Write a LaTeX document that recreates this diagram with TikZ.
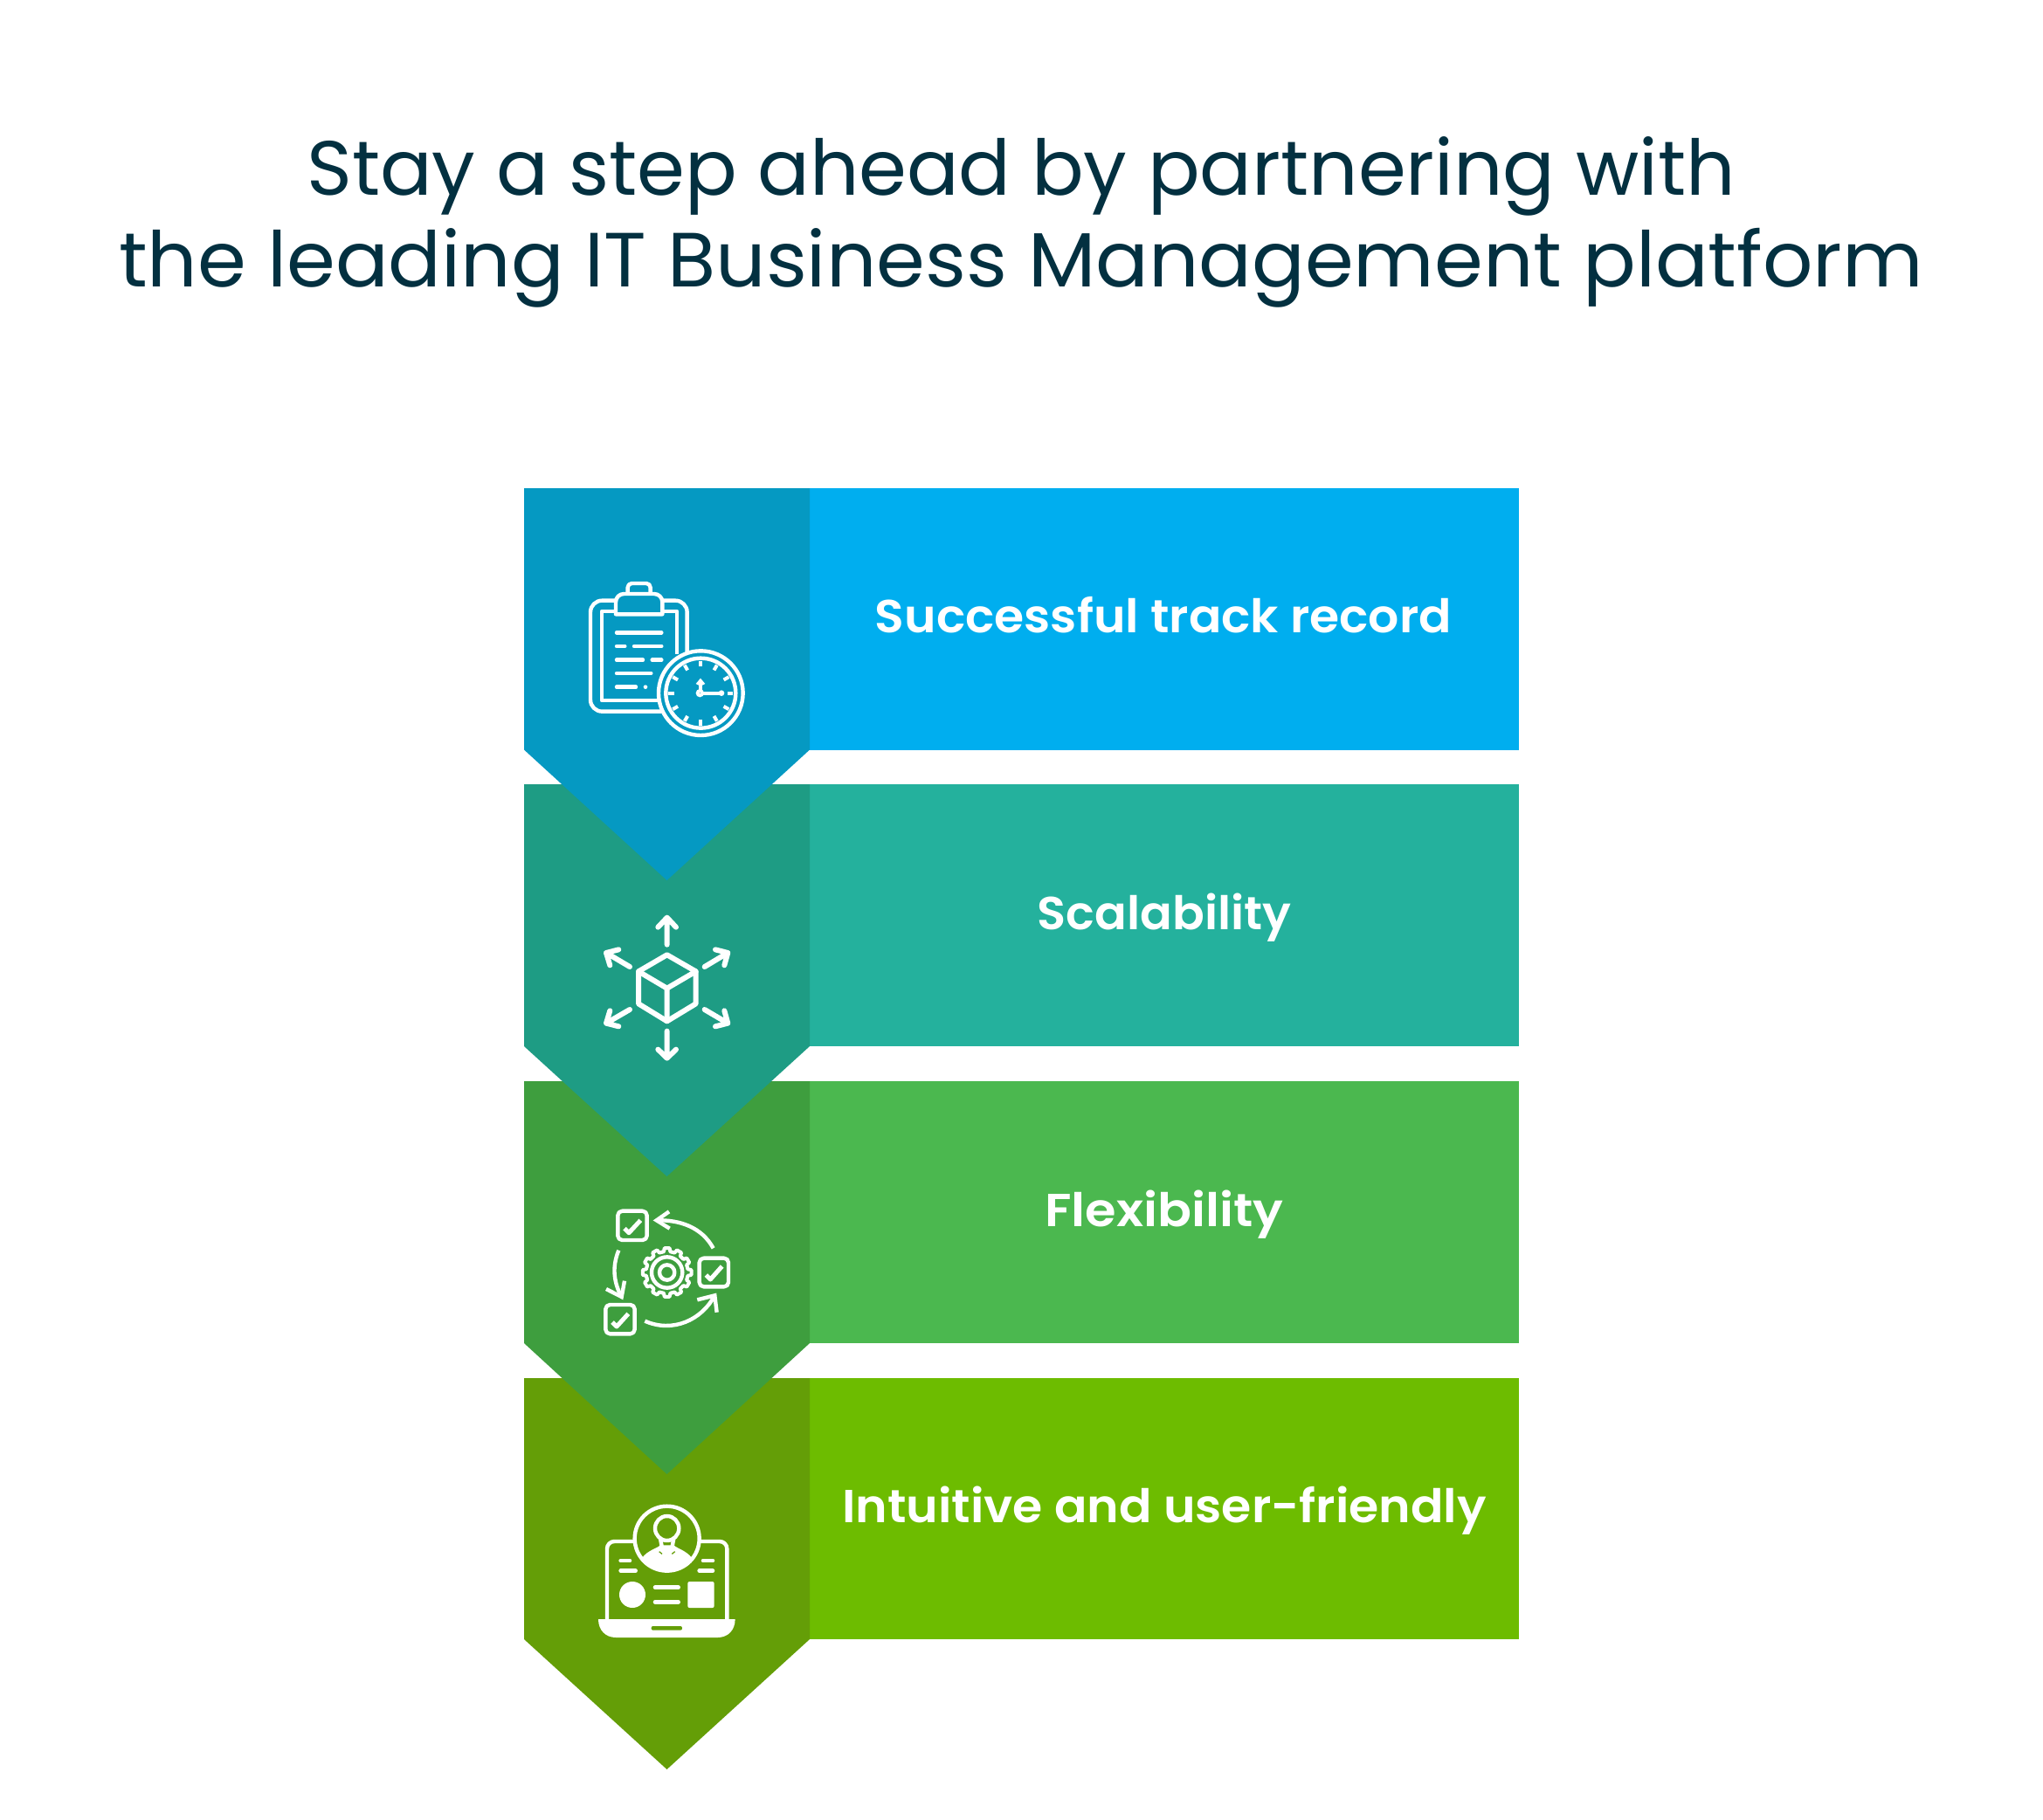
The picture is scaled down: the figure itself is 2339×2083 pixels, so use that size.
\documentclass[tikz,border=0pt]{standalone}
\usepackage{fontspec}
\usetikzlibrary{calc}
\setmainfont{Poppins}
\newfontfamily\labfont{Poppins SemiBold}
\definecolor{inktitle}{HTML}{033040}
\definecolor{pA}{HTML}{00AEEF}\definecolor{dA}{HTML}{0599C2}
\definecolor{pB}{HTML}{24B19D}\definecolor{dB}{HTML}{1E9C84}
\definecolor{pC}{HTML}{4BB84F}\definecolor{dC}{HTML}{3E9E3E}
\definecolor{pD}{HTML}{6DBC00}\definecolor{dD}{HTML}{649E07}
\tikzset{
  titletext/.style={text=inktitle,anchor=base,inner sep=0pt,font=\fontsize{88}{100}\selectfont},
  labeltext/.style={text=white,anchor=base,inner sep=0pt,font=\labfont\fontsize{53}{60}\selectfont},
  icon/.style={draw=white,line width=4.4pt,line cap=round,line join=round},
  iconthin/.style={draw=white,line width=4pt,line cap=round,line join=round},
}
\begin{document}
\begin{tikzpicture}[x=1pt,y=-1pt]
\useasboundingbox (0,0) rectangle (2339,2083);
\fill[white] (0,0) rectangle (2339,2083);
% bands, bottom first so that each point overlaps the band below
\fill[pD] (927,1578) rectangle (1739,1877);
\fill[dD] (600,1578) -- (927,1578) -- (927,1877) -- (763.5,2026) -- (600,1877) -- cycle;
\fill[pC] (927,1238) rectangle (1739,1538);
\fill[dC] (600,1238) -- (927,1238) -- (927,1538) -- (763.5,1688) -- (600,1538) -- cycle;
\fill[pB] (927,898) rectangle (1739,1198);
\fill[dB] (600,898) -- (927,898) -- (927,1198) -- (763.5,1347) -- (600,1198) -- cycle;
\fill[pA] (927,559) rectangle (1739,858.5);
\fill[dA] (600,559) -- (927,559) -- (927,858.5) -- (763.5,1008) -- (600,858.5) -- cycle;
% title
\node[titletext] (t1) at (1169,223.5) {\scalebox{1.003}[1]{Stay a step ahead by partnering with}};
\node[titletext] (t2) at (1169,328.5) {\scalebox{1.021}[1]{the leading IT Business Management platform}};
% labels
\node[labeltext] (l1) at (1332,724) {\scalebox{1.043}[1]{Successful track record}};
\node[labeltext] (l2) at (1333,1064) {\scalebox{1.024}[1]{Scalability}};
\node[labeltext] (l3) at (1333,1404) {\scalebox{1.085}[1]{Flexibility}};
\node[labeltext] (l4) at (1333,1743) {\scalebox{1.045}[1]{Intuitive and user-friendly}};
% icon 1: clipboard and clock
\begin{scope}[shift={(600,620)},x=0.3333pt,y=-0.3333pt]
  \draw[icon] (312,203) -- (268,203) arc[start angle=90,end angle=180,radius=40pt/3] -- (228,544) arc[start angle=180,end angle=270,radius=40pt/3] -- (470,584);
  \draw[icon] (478,203) -- (520,203) arc[start angle=90,end angle=0,radius=40pt/3] -- (560,380);
  \draw[icon,line cap=butt] (312,240) -- (267,240) -- (267,546) -- (465,546);
  \draw[icon,line cap=butt] (478,240) -- (525,240) -- (525,388);
  \draw[icon] (315,250) -- (315,208) arc[start angle=180,end angle=90,radius=28pt/3] -- (447,180) arc[start angle=90,end angle=0,radius=28pt/3] -- (475,250) -- cycle;
  \draw[icon] (356,176) -- (356,158) arc[start angle=180,end angle=90,radius=14pt/3] -- (420,144) arc[start angle=90,end angle=0,radius=14pt/3] -- (434,176);
  \draw[icon] (318,313) -- (472,313) (318,360) -- (346,360) (378,360) -- (472,360)
              (318,407) -- (408,407) (440,407) -- (472,407) (318,453) -- (436,453) (318,500) -- (384,500);
  \fill[white] (417,500) circle[radius=7pt/3];
  \draw[icon] (607,521) circle[radius=145pt/3];
  \draw[icon] (607,521) circle[radius=120pt/3];
  \foreach \a in {0,30,...,330}{
    \draw[iconthin,line cap=butt] ($(607,521)+(\a:111pt/3)$) -- ($(607,521)+(\a:91pt/3)$);
  }
  \draw[iconthin] (606,511) -- (606,484) (614,521) -- (678,521);
  \draw[white,line width=3.8pt] (604,521) circle[radius=8pt/3];
  \fill[white] (606,470) -- (622,489) -- (606,497) -- (590,489) -- cycle;
  \fill[white] (678,521) circle[radius=10pt/3];
\end{scope}
% icon 2: cube and six arrows
\begin{scope}[shift={(660,1030)},x=0.3333pt,y=-0.3333pt,every path/.append style={line width=6pt,draw=white,line cap=round,line join=round}]
  \draw (311,190) -- (410,247) -- (410,358) -- (311,418) -- (213,358) -- (213,247) -- cycle;
  \draw (213,247) -- (311,305) -- (410,247) (311,305) -- (311,418);
  \draw (311,155) -- (311,62) (280,95) -- (311,62) -- (342,95);
  \draw (440,231) -- (520,183) (477,172) -- (520,183) -- (508,226);
  \draw (440,378) -- (520,425) (508,382) -- (520,425) -- (477,436);
  \draw (311,452) -- (311,545) (280,515) -- (311,545) -- (342,515);
  \draw (183,378) -- (102,425) (115,382) -- (102,425) -- (145,436);
  \draw (183,231) -- (102,183) (145,172) -- (102,183) -- (115,226);
\end{scope}
% icon 3: cycle of tasks round a gear
\begin{scope}[shift={(670,1370)},x=0.3333pt,y=-0.3333pt]
  \draw[icon,rounded corners=5pt] (112,50) rectangle (212,150);
  \draw[icon,rounded corners=5pt] (392,212) rectangle (492,310);
  \draw[icon,rounded corners=5pt] (70,372) rectangle (170,472);
  \draw[icon,line cap=butt,line width=5pt] (135,110) -- (150,125) -- (190,82);
  \draw[icon,line cap=butt,line width=5pt] (415,270) -- (430,285) -- (470,240);
  \draw[icon,line cap=butt,line width=5pt] (93,432) -- (108,447) -- (148,403);
  \draw[icon,line cap=butt] (440,178) .. controls (400,105) and (325,80) .. (245,82);
  \draw[icon,line cap=butt,line join=miter] (288,52) -- (245,82) -- (290,110);
  \draw[icon,line cap=butt] (115,185) .. controls (90,245) and (100,300) .. (125,345);
  \draw[icon,line cap=butt,line join=miter] (72,318) -- (125,345) -- (135,290);
  \draw[icon,line cap=butt] (205,428) .. controls (300,470) and (400,425) .. (445,340);
  \draw[icon,line cap=butt,line join=miter] (385,355) -- (445,340) -- (452,398);
  \foreach \a in {0,30,...,330}{
    \draw[iconthin] ($(281,261)+(\a-15:72pt/3)$) -- ($(281,261)+(\a-9:72pt/3)$) -- ($(281,261)+(\a-6:84pt/3)$) -- ($(281,261)+(\a+6:84pt/3)$) -- ($(281,261)+(\a+9:72pt/3)$) -- ($(281,261)+(\a+15:72pt/3)$);
  }
  \draw[icon] (281,261) circle[radius=53pt/3];
  \draw[icon] (281,261) circle[radius=26pt/3];
\end{scope}
% icon 4: laptop and user profile
\begin{scope}[shift={(670,1710)},x=0.3333pt,y=-0.3333pt]
  \draw[icon] (165,165) -- (100,165) arc[start angle=90,end angle=180,radius=25pt/3] -- (75,432);
  \draw[icon] (395,165) -- (462,165) arc[start angle=90,end angle=0,radius=25pt/3] -- (487,432);
  \fill[white] (45,432) -- (515,432) .. controls (515,470) and (490,495) .. (455,495) -- (105,495) .. controls (70,495) and (45,470) .. (45,432) -- cycle;
  \fill[dD,rounded corners=2pt] (227,456) rectangle (333,470);
  \begin{scope}
    \clip (281,155) circle[radius=111pt/3];
    \fill[white] (195,222) .. controls (215,195) and (245,190) .. (258,178) -- (304,178) .. controls (317,190) and (345,195) .. (367,222) -- (367,280) -- (195,280) -- cycle;
  \end{scope}
  \draw[icon] (281,155) circle[radius=111pt/3];
  \draw[icon] (281,120) ellipse[x radius=41pt/3,y radius=42pt/3];
  \draw[icon,line cap=butt] (258,155) -- (263,182) (304,155) -- (299,182);
  \draw[dD,line width=1.3pt] (254,200) -- (264,208) (308,200) -- (298,208);
  \draw[white,line width=4.6pt,line cap=round] (122,231) -- (153,231) (122,266) -- (173,266) (405,231) -- (438,231) (392,266) -- (438,266) (240,323) -- (320,323) (240,373) -- (320,373);
  \fill[white] (162,348) circle[radius=45pt/3];
  \fill[white,rounded corners=2pt] (352,303) rectangle (443,393);
\end{scope}
\end{tikzpicture}
\end{document}
